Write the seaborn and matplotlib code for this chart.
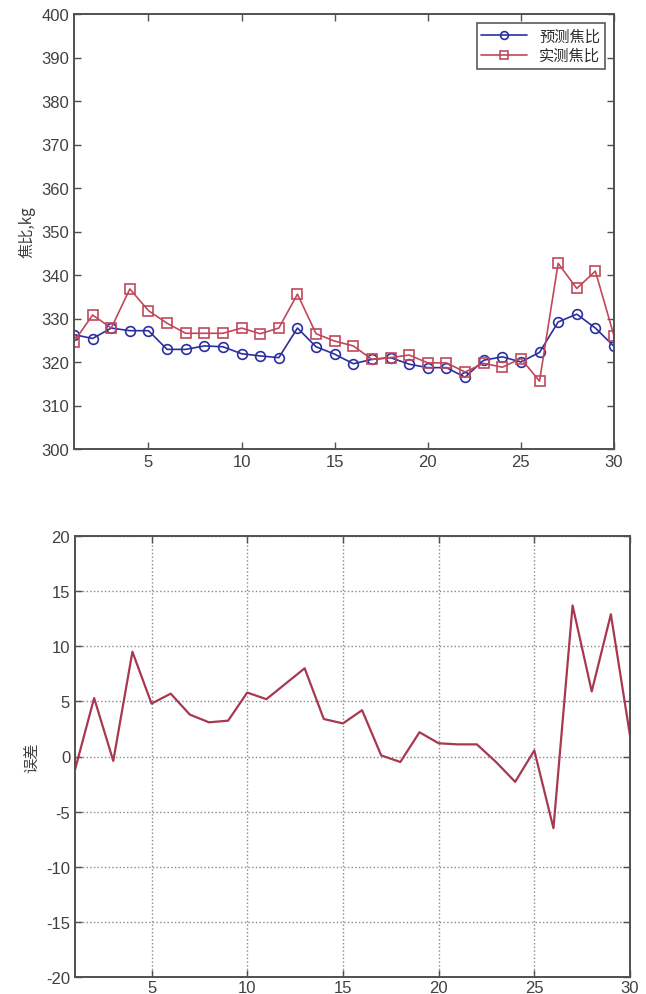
import numpy as np
import pandas as pd
import matplotlib
matplotlib.use("Agg")
import matplotlib.pyplot as plt
import seaborn as sns

# ---- data ----
samples = list(range(1, 31))
predicted = [326.3, 325.4, 327.8, 327.2, 327.2, 322.9, 322.9, 323.7, 323.5, 321.9,
             321.4, 321.0, 327.8, 323.5, 321.8, 319.6, 320.6, 321.0, 319.5, 318.7,
             318.7, 316.5, 320.4, 321.2, 320.0, 322.2, 329.2, 331.0, 327.8, 323.6]
actual = [324.7, 330.8, 327.8, 336.8, 331.8, 328.9, 326.6, 326.6, 326.6, 327.8,
          326.5, 327.8, 335.6, 326.5, 324.8, 323.7, 320.6, 321.0, 321.6, 319.8,
          319.8, 317.7, 319.7, 318.8, 320.8, 315.6, 342.7, 336.9, 340.9, 326.0]
error = [-1.2, 5.3, -0.4, 9.5, 4.8, 5.7, 3.8, 3.1, 3.25, 5.8,
         5.2, 6.6, 8.0, 3.4, 3.0, 4.2, 0.1, -0.5, 2.2, 1.2,
         1.1, 1.1, -0.5, -2.3, 0.55, -6.5, 13.7, 5.9, 12.9, 1.9]
series_names = ["预测焦比", "实测焦比"]
top_yticks = list(range(300, 401, 10))
bottom_yticks = list(range(-20, 21, 5))
xticks = [5, 10, 15, 20, 25, 30]

sns.set_theme(style="white")
plt.rcParams['font.family'] = ['Liberation Sans', 'Noto Sans CJK SC', 'DejaVu Sans']
plt.rcParams['axes.unicode_minus'] = False

df_top = pd.DataFrame({
    "x": samples * 2,
    "y": predicted + actual,
    "series": [series_names[0]] * 30 + [series_names[1]] * 30,
})
df_err = pd.DataFrame({"x": samples, "y": error})

fig = plt.figure(figsize=(6.46, 9.95), dpi=100)
ax1 = fig.add_axes([74/646, 1-450/995, (614-74)/646, (450-15)/995])
ax2 = fig.add_axes([75/646, 1-978/995, (630-75)/646, (978-537)/995])

txt = "#404040"
blue = "#2b2f9e"
red = "#c0485a"

sns.lineplot(data=df_top, x="x", y="y", hue="series", style="series",
             markers={series_names[0]: "o", series_names[1]: "s"}, dashes=False,
             palette={series_names[0]: blue, series_names[1]: red},
             markersize=7, linewidth=1.2, ax=ax1, legend=False)
data_lines = ax1.lines[:2]
for ln, c in zip(data_lines, [blue, red]):
    ln.set_markerfacecolor("none")
    ln.set_markeredgecolor(c)
    ln.set_markeredgewidth(1.2)

ax1.set_xlim(1, 30)
ax1.set_ylim(300, 400)
ax1.set_xticks(xticks)
ax1.set_yticks(top_yticks)
ax1.set_xlabel("")
ax1.set_ylabel("焦比,kg", color=txt, fontsize=11, family=['Noto Sans CJK SC', 'DejaVu Sans'])
leg = ax1.legend(data_lines, series_names, loc="upper right", frameon=True,
                 handlelength=3.0, borderpad=0.3, labelspacing=0.15, fancybox=False,
                 markerscale=0.8, borderaxespad=0.6,
                 prop={'family': ['Noto Sans CJK SC'], 'size': 11})
leg.get_frame().set_edgecolor("#303030")
leg.get_frame().set_linewidth(1.2)
for t in leg.get_texts():
    t.set_color("#303030")

sns.lineplot(data=df_err, x="x", y="y", color="#a83850", linewidth=1.6, ax=ax2)
ax2.set_xlim(1, 30)
ax2.set_ylim(-20, 20)
ax2.set_xticks(xticks)
ax2.set_yticks(bottom_yticks)
ax2.set_xlabel("")
ax2.set_ylabel("误差", color=txt, fontsize=11, family=['Noto Sans CJK SC', 'DejaVu Sans'])
ax2.grid(True, linestyle=":", color="#888888", linewidth=1.0)

for ax in (ax1, ax2):
    for s in ax.spines.values():
        s.set_visible(True)
        s.set_color("#505050")
        s.set_linewidth(1.4)
    ax.tick_params(direction="in", length=5, width=1, colors="#505050",
                   labelcolor=txt, labelsize=12, top=True, right=True,
                   bottom=True, left=True)
    ax.yaxis.labelpad = 4
ax2.tick_params(axis="x", pad=2)

fig.savefig("out.png", dpi=100)
